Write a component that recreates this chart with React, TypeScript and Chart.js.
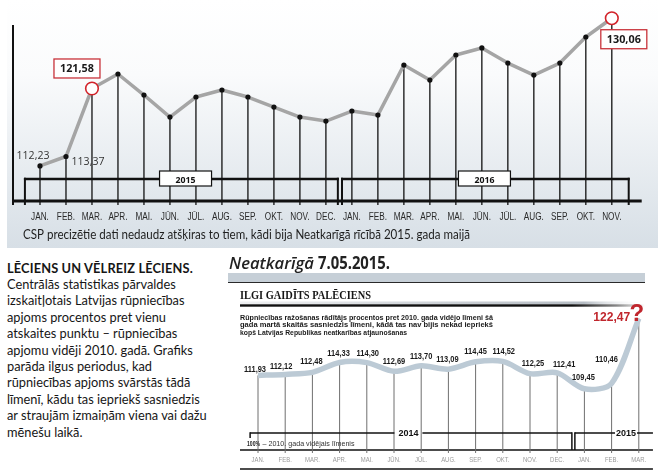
import React, { useEffect, useRef } from "react";
import { Chart, registerables } from "chart.js";

Chart.register(...registerables);

// ---------- DATA: top chart (2015-2016) ----------
const topMonths = ["JAN.", "FEB.", "MAR.", "APR.", "MAI.", "JŪN.", "JŪL.", "AUG.", "SEP.", "OKT.", "NOV.", "DEC.",
  "JAN.", "FEB.", "MAR.", "APR.", "MAI.", "JŪN.", "JŪL.", "AUG.", "SEP.", "OKT.", "NOV."];
const topValues = [112.23, 113.37, 121.58, 123.33, 120.79, 118.13, 120.55, 121.4, 120.55, 119.34, 118.13, 117.65,
  118.86, 118.37, 124.41, 122.6, 125.62, 126.47, 124.65, 123.2, 124.65, 127.79, 130.06];
const topYears = ["2015", "2016"];
const topYearStart = [0, 12];
const topYearEnd = [11, 22];
const topHighlight = [2, 22];
const topPlainLabels = [0, 1];
const topBoxLabels = [2, 22];
const topCaption = "CSP precizētie dati nedaudz atšķiras to tiem, kādi bija Neatkarīgā rīcībā 2015. gada maijā";

// ---------- DATA: bottom chart (2014-2015) ----------
const botMonths = ["JAN.", "FEB.", "MAR.", "APR.", "MAI.", "JŪN.", "JŪL.", "AUG.", "SEP.", "OKT.", "NOV.", "DEC.", "JAN.", "FEB.", "MAR."];
const botValues = [111.93, 112.12, 112.48, 114.33, 114.3, 112.69, 113.7, 113.09, 114.45, 114.52, 112.25, 112.41, 109.45, 110.46, 122.47];
const botYears = ["2014", "2015"];
const botHighlight = 14;
const botNewspaper = "Neatkarīgā";
const botDate = "7.05.2015.";
const botTitle = "ILGI GAIDĪTS PALĒCIENS";
const botSubtitle = [
  "Rūpniecības ražošanas rādītājs procentos pret 2010. gada vidējo līmeni šā",
  "gada martā skaitās sasniedzis līmeni, kādā tas nav bijis nekad iepriekš",
  "kopš Latvijas Republikas neatkarības atjaunošanas",
];
const botNoteBold = "100%";
const botNote = " – 2010. gada vidējais līmenis";

// ---------- DATA: left text ----------
const leftTitle = "LĒCIENS UN VĒLREIZ LĒCIENS.";
const leftLines = [
  "Centrālās statistikas pārvaldes",
  "izskaitļotais Latvijas rūpniecības",
  "apjoms procentos pret vienu",
  "atskaites punktu – rūpniecības",
  "apjomu vidēji 2010. gadā. Grafiks",
  "parāda ilgus periodus, kad",
  "rūpniecības apjoms svārstās tādā",
  "līmenī, kādu tas iepriekš sasniedzis",
  "ar straujām izmaiņām viena vai dažu",
  "mēnešu laikā.",
];

const fmt = (v: number) => v.toFixed(2).replace(".", ",");

function drawText(ctx: CanvasRenderingContext2D, s: string, x: number, y: number, font: string, color: string,
  opts: { align?: "left" | "center" | "right"; sx?: number; width?: number } = {}) {
  ctx.save();
  ctx.font = font;
  ctx.fillStyle = color;
  ctx.textAlign = "left";
  ctx.textBaseline = "alphabetic";
  const m = ctx.measureText(s).width;
  const sx = opts.width ? opts.width / m : (opts.sx ?? 1);
  const w = m * sx;
  const align = opts.align ?? "left";
  const x0 = align === "center" ? x - w / 2 : align === "right" ? x - w : x;
  ctx.translate(x0, y);
  ctx.scale(sx, 1);
  ctx.fillText(s, 0, 0);
  ctx.restore();
  return w;
}

function seg(ctx: CanvasRenderingContext2D, x1: number, y1: number, x2: number, y2: number, w: number, color = "#111") {
  ctx.save();
  ctx.strokeStyle = color;
  ctx.lineWidth = w;
  ctx.beginPath();
  ctx.moveTo(x1, y1);
  ctx.lineTo(x2, y2);
  ctx.stroke();
  ctx.restore();
}

const topPlugin = {
  id: "topDeco",
  beforeDraw(chart: any) {
    const ctx = chart.ctx as CanvasRenderingContext2D;
    const g = ctx.createLinearGradient(0, 0, 0, 248);
    g.addColorStop(0, "#ffffff");
    g.addColorStop(0.3, "#fafbfc");
    g.addColorStop(1, "#d7dfe6");
    ctx.save();
    ctx.fillStyle = g;
    ctx.fillRect(7, 0, 651, 248);
    ctx.restore();
  },
  beforeDatasetsDraw(chart: any) {
    const ctx = chart.ctx as CanvasRenderingContext2D;
    const X = (v: number) => chart.scales.x.getPixelForValue(v);
    const pts = chart.getDatasetMeta(0).data;
    const baseY = chart.chartArea.bottom;
    const tickY = baseY + 4;
    const axisX = X(-1) - 1;
    seg(ctx, axisX, 25, axisX, tickY, 2);
    seg(ctx, axisX, baseY, X(23.15), baseY, 3);
    const brL = [X(-0.58), X(11.62)];
    const brR = [X(11.46), X(22.65)];
    const brY = baseY - 22;
    pts.forEach((p: any, i: number) => {
      seg(ctx, p.x, p.y + (topHighlight.includes(i) ? 6 : 0), p.x, tickY, 1.3);
    });
    topYears.forEach((yr, k) => {
      seg(ctx, brL[k] - 1, brY, brR[k] + 1, brY, 2.5);
      seg(ctx, brL[k], brY - 1.25, brL[k], tickY, 2);
      seg(ctx, brR[k], brY - 1.25, brR[k], tickY, 2);
      const cx = X((topYearStart[k] + topYearEnd[k]) / 2 + 0.1);
      ctx.save();
      ctx.fillStyle = "#fff";
      ctx.strokeStyle = "#111";
      ctx.lineWidth = 1.2;
      ctx.fillRect(cx - 26, brY - 8, 52, 15);
      ctx.strokeRect(cx - 26, brY - 8, 52, 15);
      ctx.restore();
      drawText(ctx, yr, cx, brY + 3.5, 'bold 9.5px "Open Sans"', "#111", { align: "center", width: 20 });
    });
    pts.forEach((p: any, i: number) => {
      drawText(ctx, topMonths[i], p.x, baseY + 19, '10px "Liberation Sans"', "#2a2a2a", { align: "center", sx: 0.82 });
    });
    drawText(ctx, topCaption, 23, 239, "13px Lato", "#1e1e1e", { width: 447 });
  },
  afterDatasetsDraw(chart: any) {
    const ctx = chart.ctx as CanvasRenderingContext2D;
    const pts = chart.getDatasetMeta(0).data;
    const plainOff: Record<number, number[]> = { 0: [-7, -7], 1: [22, 8] };
    topPlainLabels.forEach((i) => {
      const [dx, dy] = plainOff[i];
      drawText(ctx, fmt(topValues[i]), pts[i].x + dx, pts[i].y + dy, '11px "Open Sans"', "#333", { align: "center", width: 33 });
    });
    const boxOff: Record<number, number[]> = { 2: [-15, -20], 22: [12, 21] };
    topBoxLabels.forEach((i) => {
      const [dx, dy] = boxOff[i];
      const cx = pts[i].x + dx;
      const cy = pts[i].y + dy;
      ctx.save();
      ctx.fillStyle = "#fff";
      ctx.strokeStyle = "#c8323a";
      ctx.lineWidth = 1.3;
      ctx.fillRect(cx - 23, cy - 9.5, 46, 19);
      ctx.strokeRect(cx - 23, cy - 9.5, 46, 19);
      ctx.restore();
      drawText(ctx, fmt(topValues[i]), cx, cy + 4, 'bold 11px "Open Sans"', "#1a1a1a", { align: "center", width: 34 });
    });
  },
};

const botPlugin = {
  id: "botDeco",
  beforeDatasetsDraw(chart: any) {
    const ctx = chart.ctx as CanvasRenderingContext2D;
    const X = (v: number) => chart.scales.x.getPixelForValue(v);
    const pts = chart.getDatasetMeta(0).data;
    const baseY = chart.chartArea.bottom;
    // header
    drawText(ctx, botNewspaper, 4, 19.3, 'italic 600 17px "Open Sans"', "#222", { width: 85 });
    drawText(ctx, botDate, 93, 19.3, 'bold 17px "Open Sans"', "#222", { width: 72 });
    ctx.save();
    ctx.fillStyle = "#c6cfd7";
    ctx.fillRect(3, 23, 417, 9);
    ctx.restore();
    seg(ctx, 3, 32.5, 420, 32.5, 1.2, "#2a2a2a");
    drawText(ctx, botTitle, 15, 49.3, 'bold 13px "Liberation Serif"', "#151515", { width: 131 });
    ctx.save();
    const gb = ctx.createLinearGradient(15, 0, 420, 0);
    gb.addColorStop(0, "rgba(150,160,170,0.15)");
    gb.addColorStop(0.85, "rgba(150,160,170,0.7)");
    gb.addColorStop(1, "rgba(255,255,255,0)");
    ctx.fillStyle = gb;
    ctx.fillRect(15, 51.5, 405, 3);
    const g = ctx.createLinearGradient(15, 0, 420, 0);
    g.addColorStop(0, "#111");
    g.addColorStop(0.82, "#111");
    g.addColorStop(0.93, "#888");
    g.addColorStop(1, "#fff");
    ctx.fillStyle = g;
    ctx.fillRect(15, 54.3, 405, 2.4);
    ctx.restore();
    const subBase = [69.5, 77.2, 85];
    const subW = [253, 253, 167];
    botSubtitle.forEach((s, k) => {
      drawText(ctx, s, 15, subBase[k], 'bold 8px "Liberation Sans"', "#1a1a1a", { width: subW[k] });
    });
    // axis lines
    seg(ctx, 15, baseY, X(14.52), baseY, 1.5);
    seg(ctx, 15, baseY + 19, X(14.52), baseY + 19, 1.5);
    // drop lines
    pts.forEach((p: any) => seg(ctx, p.x, p.y, p.x, baseY + 3, 1, "#6f6f6f"));
    // year brackets
    const brY = baseY - 17;
    const l1 = X(-0.29), r1 = X(11.54), c1 = X(5.53);
    seg(ctx, l1, brY, c1 - 14, brY, 1.5);
    seg(ctx, c1 + 14, brY, r1, brY, 1.5);
    seg(ctx, l1, brY - 0.75, l1, brY + 5, 1.5);
    seg(ctx, r1, brY - 0.75, r1, baseY, 1.5);
    drawText(ctx, botYears[0], c1, brY + 3, 'bold 9px "Liberation Sans"', "#111", { align: "center" });
    const l2 = X(11.65), r2 = X(14.52), c2 = X(13.53);
    seg(ctx, l2, brY - 0.75, l2, baseY, 1.5);
    seg(ctx, l2, brY, c2 - 11, brY, 1.5);
    seg(ctx, c2 + 11, brY, r2, brY, 1.5);
    drawText(ctx, botYears[1], c2, brY + 3, 'bold 9px "Liberation Sans"', "#111", { align: "center" });
    // base note
    drawText(ctx, botNoteBold, 22, baseY - 4, 'bold 7.5px "Liberation Sans"', "#222", { width: 13 });
    drawText(ctx, botNote, 35.5, baseY - 4, '7.5px "Liberation Sans"', "#333", { width: 94 });
    // months
    pts.forEach((p: any, i: number) => {
      drawText(ctx, botMonths[i], p.x, baseY + 11.7, '7px "Liberation Sans"', "#9a9a9a", { align: "center", sx: 0.85 });
    });
  },
  afterDatasetsDraw(chart: any) {
    const ctx = chart.ctx as CanvasRenderingContext2D;
    const pts = chart.getDatasetMeta(0).data;
    const off = [[-3, -3.4], [-4, -5.4], [-1, -8.4], [-1, -6.5], [1, -6.6], [0, -7.3], [0, -6.9], [-1, -7.2],
      [0, -7.8], [1, -7.4], [3, -7.7], [7, -5.8], [-1, -8.8], [-5, -21.4]];
    pts.forEach((p: any, i: number) => {
      if (i === botHighlight) return;
      const [dx, dy] = off[i];
      drawText(ctx, fmt(botValues[i]), p.x + dx, p.y + dy, 'bold 8.5px "Liberation Sans"', "#1a1a1a", { align: "center", sx: 0.88 });
    });
    const p = pts[botHighlight];
    drawText(ctx, fmt(botValues[botHighlight]), p.x - 27, p.y + 2.5, 'bold 13px "Liberation Sans"', "#c0262d", { align: "center", width: 37 });
    drawText(ctx, "?", p.x - 2, p.y + 3, 'bold 24px "Liberation Sans"', "#c0262d", { align: "center" });
  },
};

export default function App() {
  const topRef = useRef<HTMLCanvasElement>(null);
  const botRef = useRef<HTMLCanvasElement>(null);

  useEffect(() => {
    const top = new Chart(topRef.current!, {
      type: "line",
      data: {
        datasets: [{
          data: topValues.map((v, i) => ({ x: i, y: v })),
          borderColor: "#a5a5a5",
          borderWidth: 3.5,
          borderJoinStyle: "round",
          tension: 0,
          clip: false as any,
          pointRadius: (c: any) => (topHighlight.includes(c.dataIndex) ? 6.3 : 2.6),
          pointBackgroundColor: (c: any) => (topHighlight.includes(c.dataIndex) ? "#fff" : "#111"),
          pointBorderColor: (c: any) => (topHighlight.includes(c.dataIndex) ? "#d2232a" : "#111"),
          pointBorderWidth: (c: any) => (topHighlight.includes(c.dataIndex) ? 1.6 : 0),
        }],
      },
      options: {
        responsive: false,
        animation: false,
        events: [],
        layout: { padding: { left: 14, right: 29, top: 15, bottom: 49 } },
        scales: {
          x: { type: "linear", min: -1, max: 23.2, display: false },
          y: { min: 108, max: 130.45, display: false },
        },
        plugins: { legend: { display: false }, tooltip: { enabled: false } },
      },
      plugins: [topPlugin],
    } as any);

    const bot = new Chart(botRef.current!, {
      type: "line",
      data: {
        datasets: [{
          data: botValues.map((v, i) => ({ x: i, y: v })),
          borderColor: "#bccad5",
          borderWidth: 5.5,
          tension: 0.3,
          clip: false as any,
          pointRadius: 0,
        }],
      },
      options: {
        responsive: false,
        animation: false,
        events: [],
        layout: { padding: { left: 5.8, right: 19.6, top: 60, bottom: 23 } },
        scales: {
          x: { type: "linear", min: -1, max: 14.5, display: false },
          y: { min: 98.12, max: 124.04, display: false },
        },
        plugins: { legend: { display: false }, tooltip: { enabled: false } },
      },
      plugins: [botPlugin],
    } as any);

    let alive = true;
    (document as any).fonts?.ready?.then(() => {
      if (alive) { top.draw(); bot.draw(); }
    });
    return () => {
      alive = false;
      top.destroy();
      bot.destroy();
    };
  }, []);

  return (
    <div style={{ position: "fixed", left: 0, top: 0, width: 672, height: 473, background: "#fff", overflow: "hidden" }}>
      <canvas ref={topRef} width={672} height={250} style={{ position: "absolute", left: 0, top: 0 }} />
      <canvas ref={botRef} width={447} height={223} style={{ position: "absolute", left: 225, top: 250 }} />
      <div style={{ position: "absolute", left: 7, top: 259.5, fontFamily: "Lato", fontSize: 12.8, lineHeight: "16.4px", color: "#161616", whiteSpace: "nowrap" }}>
        <div style={{ fontWeight: 700, letterSpacing: "0.15px" }}>{leftTitle}</div>
        {leftLines.map((l) => (
          <div key={l}>{l}</div>
        ))}
      </div>
    </div>
  );
}
